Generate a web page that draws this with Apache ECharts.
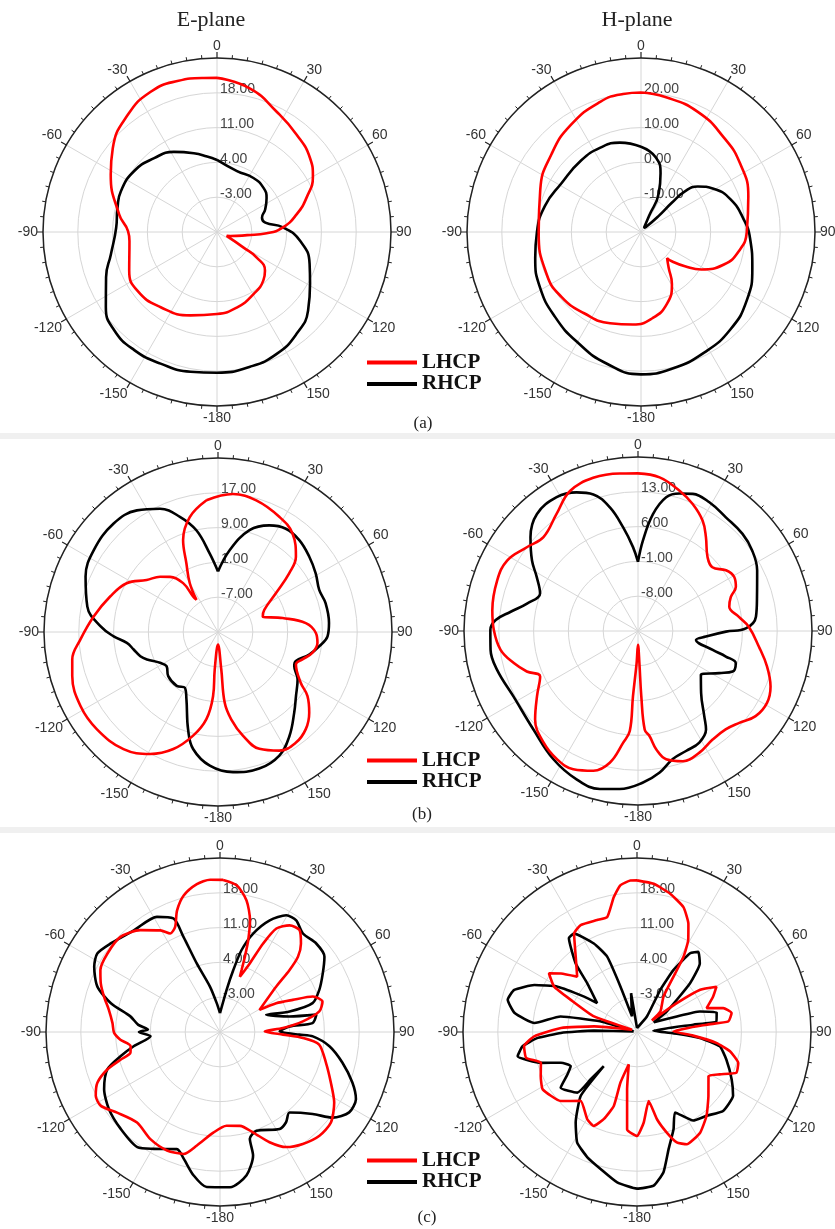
<!DOCTYPE html>
<html><head><meta charset="utf-8">
<script src="https://cdn.jsdelivr.net/npm/echarts/dist/echarts.min.js"></script>
<style>html,body{margin:0;padding:0;background:#fff}#c{width:835px;height:1229px}</style>
</head><body><div id="c"></div>
<script>
// ---------- data (angle in degrees as on the plots, value in dB) ----------
const angleLabels = [0, 30, 60, 90, 120, 150, -180, -150, -120, -90, -60, -30];
const seriesNames = ['LHCP', 'RHCP'];
const planeTitles = ['E-plane', 'H-plane'];
const captions = ['(a)', '(b)', '(c)'];

// (a) E-plane
const aE_L_ang = [0,13,26.4,39.3,51.5,59.9,69,77.5,86,91.5,96,107,112,120.4,122.7,128.9,136.4,149.5,165,180,-162.4,-143.2,-126.4,-113.8,-95.8,-89.4,-79.8,-61.6,-51.2,-37.4,-25.3,-14.7,-4.9,0];
const aE_L_val = [21.0,19.6,17.0,15.3,13.9,12.3,9.3,6.4,3.3,0,-3.9,-7.2,-7.9,-3.8,-0.5,2.4,3.5,4.5,5.7,6.5,7.6,8.9,9.9,9.3,7.7,7.9,10,14.3,16.9,19.6,21.2,21.4,21.1,21.0];
const aE_R_ang = [0,18.2,34,46.5,55.5,64.9,72.3,79,86,96,109,119,130.8,142,153.9,166.2,180,-169.3,-156.8,-145,-133.8,-124.1,-112.2,-101.8,-87.6,-76.3,-67,-53.8,-40.4,-28.3,-16.4,-7.5,0];
const aE_R_val = [4.5,2.9,3.1,2.9,2.1,0.7,-0.5,-0.1,3.3,6.8,9.7,11.4,14.2,16,17.3,17.9,18.3,18.6,18.8,19,18.6,17,14.1,11.8,10.3,10.6,11,10.7,9.5,8.3,6.5,5.3,4.5];
// (a) H-plane
const aH_L_ang = [0,10.2,25.3,41.3,55.5,71.6,90,101.3,111.4,121.9,127.9,133.5,135,142.3,149.3,160,172.5,-175,-161.3,-145,-129.2,-114.1,-90,-67.2,-48.9,-33.1,-17.4,-7.4,0];
const aH_L_val = [20.1,19.4,18.2,16.1,14.6,12.5,10.4,8.6,5.6,0.4,-4,-7.8,-9.4,-7,-2.6,1.9,5,6.7,7.7,8.5,9.5,9.7,9.4,11.4,14.1,16.8,19.2,20,20.1];
const aH_R_ang = [0,11.1,18.4,24.6,26.6,35,45,47.7,46.5,47.2,51.3,59.6,70,82.8,93.4,107.8,122.9,137.5,152.2,167.3,180,-165.5,-150.2,-134.5,-118.7,-103.8,-90,-74.8,-58.5,-40,-25.7,-13.3,0];
const aH_R_val = [4.5,1.9,-2.2,-7.7,-14.8,-18.5,-18,-13.1,-7.8,-2.8,0.9,4.4,7.4,9.7,11.4,13.6,16.2,18,19.1,20.3,20.9,19.1,16.6,14.7,13.1,11.3,9.9,8.6,6.8,6.8,6.9,6.4,4.5];

// (b) E-plane
const bE_L_ang = [-5,6.2,16.2,28,37.1,46,50.5,56.2,64.4,70.8,77.8,84.2,90.6,96.3,102.5,108,112.6,121.5,125.6,131.5,137.9,144.8,152.7,160.5,166.5,171.4,174.6,175,180,-175,-175.6,-172.4,-166.5,-159.1,-150.9,-141.1,-128.8,-118.3,-106.8,-100.7,-93.2,-82.9,-71.8,-61.9,-53.9,-46.3,-41,-35.5,-35,-33.8,-30,-24.7,-20.8,-13.8,-5];
const bE_L_val = [15.4,16.9,16.5,15,13.4,9.9,6.2,1,-3.2,-4.1,0.2,5.3,7.5,8,7.2,5.4,4.4,7.3,10.3,13,15.1,16.1,15.7,13.5,9.5,5.3,1.3,-6.4,-12.1,-6.4,-0.2,5.2,9.5,13.8,17.1,19.6,20.7,20.9,20,19.1,16.7,13.8,11.1,8.8,5.3,3.4,1.8,-1.2,-5,-6.1,-2,2.4,7.6,12.2,15.4];
const bE_R_ang = [0,8.1,17.2,25.7,33.3,41.5,50.5,59,67.4,75,85.4,92.3,98,103.9,110.5,114.1,120.8,129.4,136.6,145.5,153.6,163.2,173.9,-176.5,-168,-162.9,-154.9,-149.2,-142.5,-131.6,-123.6,-118,-111.1,-107.3,-101.7,-96.8,-92.4,-87.3,-79,-67.3,-56.6,-43.9,-33.7,-25.2,-18.3,-12,-6,0];
const bE_R_val = [-1.1,4,9.5,12.2,13.4,13.2,12.2,11.2,10.2,10.6,10.6,10.2,8.5,6.6,4.1,4.2,6.3,8.2,10.5,14,16.7,17.8,17.4,15.8,12.5,8.4,2.1,-0.1,0.6,0.3,-0.8,0.1,2.5,3.7,4.8,6.1,9,12,15.6,18,19.2,19.6,18.6,16.3,12.9,8.9,3.1,-1.1];
// (b) H-plane
const bH_L_ang = [0,8,16.5,23.3,30.4,35.9,43.3,49.4,55.4,60.7,65.7,69.8,75.1,82,87.8,97.3,105.3,112.7,119.1,125.9,132.2,138.3,145.5,153.2,161,167.6,171.2,173.7,176.1,177.1,177.5,180,-177.5,-175.6,-175.3,-172.4,-167.9,-162.3,-154.9,-147.7,-139.8,-130.7,-122.9,-114.9,-110,-104.5,-97.8,-89.6,-81.9,-70.2,-61.7,-53,-45.2,-34.8,-25.9,-16.3,-6.6,0];
const bH_L_val = [16.7,16.2,14.4,12.8,10.7,8.3,5.4,4.7,6.5,7.2,6.6,4.9,4,5.5,7.3,9.5,11.9,13.9,14.7,14.2,12.5,11.5,11.5,12.4,12.7,11.4,9.1,6.3,4.9,-1.9,-8.5,-12.2,-8.5,-1.8,5.2,7.7,12.1,14.5,15.7,15.5,14.4,12.3,9.2,6.7,8.8,10.8,12.9,14,14.6,15.1,14.9,13,11.8,13.7,16.3,17.1,16.9,16.7];
const bH_R_ang = [0,3.1,7.3,11.9,16.8,21.8,29,37.7,47.1,54.8,63,74,83.1,88.6,90.4,94.7,98.8,104.2,106.2,108.2,113.2,117.4,124.8,134.5,142.1,145.4,151.2,158.2,164.8,171.3,178.1,-173.4,-166.4,-157.5,-146.6,-133.3,-117.7,-105.4,-97.3,-89.6,-85.6,-81.4,-76.1,-69,-61.9,-56.4,-48.9,-40.8,-31.3,-23.9,-18.1,-12.8,-8.2,-3.4,0];
const bH_R_val = [-1.1,3.2,8.7,12.5,13.9,14.7,14.6,13.9,13.7,13.1,11.9,9.9,8.9,6.7,2.7,-1.3,-3.2,0.5,3.4,5.7,5.7,3.4,0.4,2.8,6.7,9.1,10.6,11,11.7,13.8,15.5,17,17.7,17.3,15.9,13.9,13.3,14.4,14.9,14.7,13.7,10.9,8,6.1,8.1,10.6,13.7,16.1,16.5,15.5,13.9,10.5,6.1,1.9,-1.1];

// (c) E-plane
const cE_L_ang = [1.2,6.5,11.4,15,17.1,18.3,19.2,19.8,23.5,26,28.6,33.1,38,42.5,46,48.3,51.1,60.8,62.9,66.2,69.1,73.5,78.3,82.7,86.4,89.2,92.4,94.1,97.2,106.2,114.5,121.7,129.2,136.2,143.5,150.1,155.8,161.7,168,176,-176.2,-168.5,-163.4,-155.9,-147,-137.5,-128.1,-121.8,-117.2,-112.5,-108.4,-105.5,-103.1,-99,-94.4,-90.5,-85.3,-78.7,-73,-67.8,-62.6,-55.1,-46.3,-38,-30.4,-26.8,-23.1,-19.5,-14.9,-8.9,-3.7,1.2];
const cE_L_val = [20.6,19.7,17,13.3,9.3,5.9,3.2,1.8,5.1,9.8,13.7,15.6,16,14.1,11.8,8.7,4.5,-0.9,2.7,6,10,11.5,10.4,6.8,2.7,-1,2.7,6.7,10.1,12.2,14.5,17,18.8,18.9,18,16.7,14.3,11.3,9.3,8.9,10.3,13.3,15.6,16.1,15.7,14.7,16.3,18.2,18.1,16.7,13.9,10.7,8.5,8.2,10.1,11.3,11.7,12.8,14.4,15.9,17.1,17.6,17.7,16,13.7,12.2,13,15.9,18.4,20.1,20.7,20.6];
const cE_R_ang = [0,8.9,12.1,14.7,18.6,24,29.6,34.3,40.1,47.4,54.2,60.3,67,72.7,73.6,69.6,77.4,79.8,84.5,85.4,89.4,91.9,92.7,97.4,104.1,110.9,116.3,121.9,127.2,131.5,139.2,143.8,148.4,159.7,164.4,165,169.5,176.3,-175.1,-169.5,-164,-159.8,-150.5,-144.3,-134.3,-124.8,-116.3,-108.4,-103.7,-99.4,-93.5,-90,-88,-85,-80.1,-75.2,-69.7,-62.6,-57.4,-51,-40.3,-28.7,-22.3,-21,-18.7,-12.4,-6.6,0];
const cE_R_val = [-6.2,-1.4,2.7,7,10.9,14.6,17,17.2,15.9,16.3,15.9,13.8,11.7,9.5,4.6,-0.1,4.3,9.7,8.7,4.1,2,6,8.7,12.2,15.4,18.5,20.5,20.6,18.5,14.9,11.4,12.5,12.9,11.2,12.3,15.7,19.3,21.3,21.3,19.3,16.5,15.1,17,18.5,17.9,17.2,16,13.9,10.6,7.6,4,6.3,4.5,6.5,8.3,12.7,16.3,18.5,19.3,18.3,16.8,16.4,14.7,10.5,4.5,-0.7,-4.1,-6.2];
// (c) H-plane
const cH_L_ang = [0,6.4,13.5,20.4,25.4,29.2,31.7,33.4,36.8,48.5,52,54,56.2,60.3,65,71.1,74.5,78.7,83.4,84,89,93.7,97.8,101.7,107,112.3,117.1,121.7,131.9,140.3,147.9,156.1,160.2,163.5,167.1,170.4,175.8,180,-174.2,-170.2,-165.7,-161.9,-162.6,-159.2,-155.3,-150.3,-140.7,-132.1,-121.3,-114.6,-107.8,-103.1,-97.2,-92.4,-87,-82.5,-65,-70.1,-64.1,-61.3,-56.3,-52.4,-47.2,-39.2,-32.6,-27.8,-19.6,-14.5,-9.8,-6.5,-2.5,0];
const cH_L_val = [20.5,20,18.6,16.8,14.1,11.1,7.8,3.3,-1.1,-3.7,-6.2,-0.1,5.3,8.4,6.9,4.8,8,9.4,8.5,4.1,-2.7,1.3,6.1,9.1,11.3,11.6,8.7,6.9,9.3,11.9,13.9,14.7,13.6,11.1,8,4.1,8.3,10.9,9.7,1.7,-3.3,0.7,5.6,8.7,10.8,10.2,7.9,10.7,12.2,11.3,10.3,12.9,12.9,10.7,5.3,-1.3,-8.9,-0.8,4.8,9,11.3,9.3,6.4,9.5,13.5,14.3,13.9,13.9,17.5,19.7,20.5,20.5];
const cH_R_ang = [0,32.6,28.9,30.5,34,37.4,42.5,47.4,55.4,60,68.6,71.9,76.2,82.4,82.6,85.4,92.4,95.4,99.8,107.1,116.6,123.6,132.5,140.3,147.6,154.7,159.4,164.9,169.3,173.8,180,-172.5,-165.1,-158.4,-151.6,-145.9,-138.6,-135.8,-135.6,-135.5,-126.1,-121.4,-117.2,-112,-107.8,-101.5,-97.1,-93.4,-90.7,-88.2,-80,-73.8,-78.5,-85,-81.2,-76,-71.1,-65.4,-60.3,-56.2,-54.1,-45.6,-41.8,-36,-32.6,-26,-21.6,-20,-17.7,-8.7,0];
const cH_R_val = [-9.2,-6.3,-0.3,4.5,9.1,10.3,8.7,4.5,-2.7,-6.1,-1.4,3.3,6.5,6.1,1.4,-6.7,-2,2.7,6.9,8.8,11.3,13.2,13.5,11.9,11.1,7.9,10.9,14.4,18.7,21.1,21.5,20.5,18.5,17.1,15.3,12,7.1,-0.4,3.3,7.1,9,6.4,5,6.5,10.3,14.5,13.2,10,5.3,-1.3,-9.3,-2.3,5.7,10.7,14.9,16.8,16.1,12.7,8.4,2.8,-0.1,4,8.5,13.3,13.5,9.8,6.3,-0.3,-6.7,-2.1,-9.2];

// ---------- layout / style ----------
const panels = [
  {c:[217,232], min:-10, max:25, step:7, sm:0.5, L:[aE_L_ang,aE_L_val], R:[aE_R_ang,aE_R_val]},
  {c:[641,232], min:-20, max:30, step:10, sm:0.5, L:[aH_L_ang,aH_L_val], R:[aH_R_ang,aH_R_val]},
  {c:[218,632], min:-15, max:25, step:8, sm:0.4, L:[bE_L_ang,bE_L_val], R:[bE_R_ang,bE_R_val]},
  {c:[638,631], min:-15, max:20, step:7, sm:0.4, L:[bH_L_ang,bH_L_val], R:[bH_R_ang,bH_R_val]},
  {c:[220,1032], min:-10, max:25, step:7, sm:0.25, L:[cE_L_ang,cE_L_val], R:[cE_R_ang,cE_R_val]},
  {c:[637,1032], min:-10, max:25, step:7, sm:0.15, L:[cH_L_ang,cH_L_val], R:[cH_R_ang,cH_R_val]}
];
const RADIUS = 174;
const sans = 'Liberation Sans, Arial, sans-serif';
const serif = 'Liberation Serif, Times New Roman, serif';

function toPolar(ang, val){ return ang.map((a,i)=>[val[i], a < 0 ? a + 360 : a]); }

const polar = [], angleAxis = [], radiusAxis = [], series = [];
panels.forEach((p, i) => {
  polar.push({center: p.c, radius: RADIUS});
  angleAxis.push({
    polarIndex: i, type: 'value', min: 0, max: 360, interval: 30,
    startAngle: 90, clockwise: true,
    axisLine: {lineStyle: {color: '#222', width: 1.5}},
    axisTick: {show: true, length: 6, lineStyle: {color: '#222', width: 1.2}},
    minorTick: {show: true, splitNumber: 6, length: 3.5, lineStyle: {color: '#222', width: 1}},
    splitLine: {show: true, lineStyle: {color: '#d6d6d6', width: 1}},
    axisLabel: {
      margin: 5, color: '#333', fontSize: 14, fontFamily: sans,
      formatter: v => {
        if (v === 360) return '';
        if (v === 180) return '-180';
        const s = v > 180 ? v - 360 : v;
        return angleLabels.includes(s) ? String(s) : '';
      }
    }
  });
  radiusAxis.push({
    polarIndex: i, type: 'value', min: p.min, max: p.max, interval: p.step,
    axisLine: {show: false}, axisTick: {show: false},
    splitLine: {show: true, lineStyle: {color: '#d6d6d6', width: 1}},
    axisLabel: {
      color: '#444', fontSize: 14, fontFamily: sans, margin: -3,
      align: 'left', verticalAlign: 'bottom', lineHeight: 7,
      formatter: v => (v === p.min || v === p.max) ? '' : v.toFixed(2)
    }
  });
  series.push({
    name: seriesNames[1], type: 'line', coordinateSystem: 'polar', polarIndex: i,
    data: toPolar(p.R[0], p.R[1]), showSymbol: false, smooth: p.sm, z: 3,
    lineStyle: {color: '#000', width: 2.6}, itemStyle: {color: '#000'}
  });
  series.push({
    name: seriesNames[0], type: 'line', coordinateSystem: 'polar', polarIndex: i,
    data: toPolar(p.L[0], p.L[1]), showSymbol: false, smooth: p.sm, z: 4,
    lineStyle: {color: '#ff0000', width: 2.6}, itemStyle: {color: '#ff0000'}
  });
});

const legendTops = [347, 745, 1145];
const legend = legendTops.map(t => ({
  orient: 'vertical', left: 362, top: t, icon: 'rect', itemWidth: 50, itemHeight: 4,
  itemGap: 0.5, selectedMode: false, data: seriesNames,
  textStyle: {fontFamily: serif, fontWeight: 'bold', fontSize: 21, lineHeight: 21, color: '#111'}
}));

const titleStyle = fs => ({fontFamily: serif, fontWeight: 'normal', fontSize: fs, color: '#222'});
const title = [
  {text: planeTitles[0], left: 206, top: 4, textAlign: 'center', textStyle: titleStyle(22)},
  {text: planeTitles[1], left: 632, top: 4, textAlign: 'center', textStyle: titleStyle(22)},
  {text: captions[0], left: 418, top: 410, textAlign: 'center', textStyle: titleStyle(17)},
  {text: captions[1], left: 417, top: 801, textAlign: 'center', textStyle: titleStyle(17)},
  {text: captions[2], left: 422, top: 1204, textAlign: 'center', textStyle: titleStyle(17)}
];

const chart = echarts.init(document.getElementById('c'), null, {renderer: 'canvas'});
chart.setOption({
  backgroundColor: '#fff', animation: false,
  graphic: [
    {type: 'rect', shape: {x: 0, y: 433, width: 835, height: 6}, style: {fill: '#f0f0f0'}, z: -10},
    {type: 'rect', shape: {x: 0, y: 827, width: 835, height: 6}, style: {fill: '#f0f0f0'}, z: -10}
  ],
  title, legend, polar, angleAxis, radiusAxis, series
});
</script></body></html>
